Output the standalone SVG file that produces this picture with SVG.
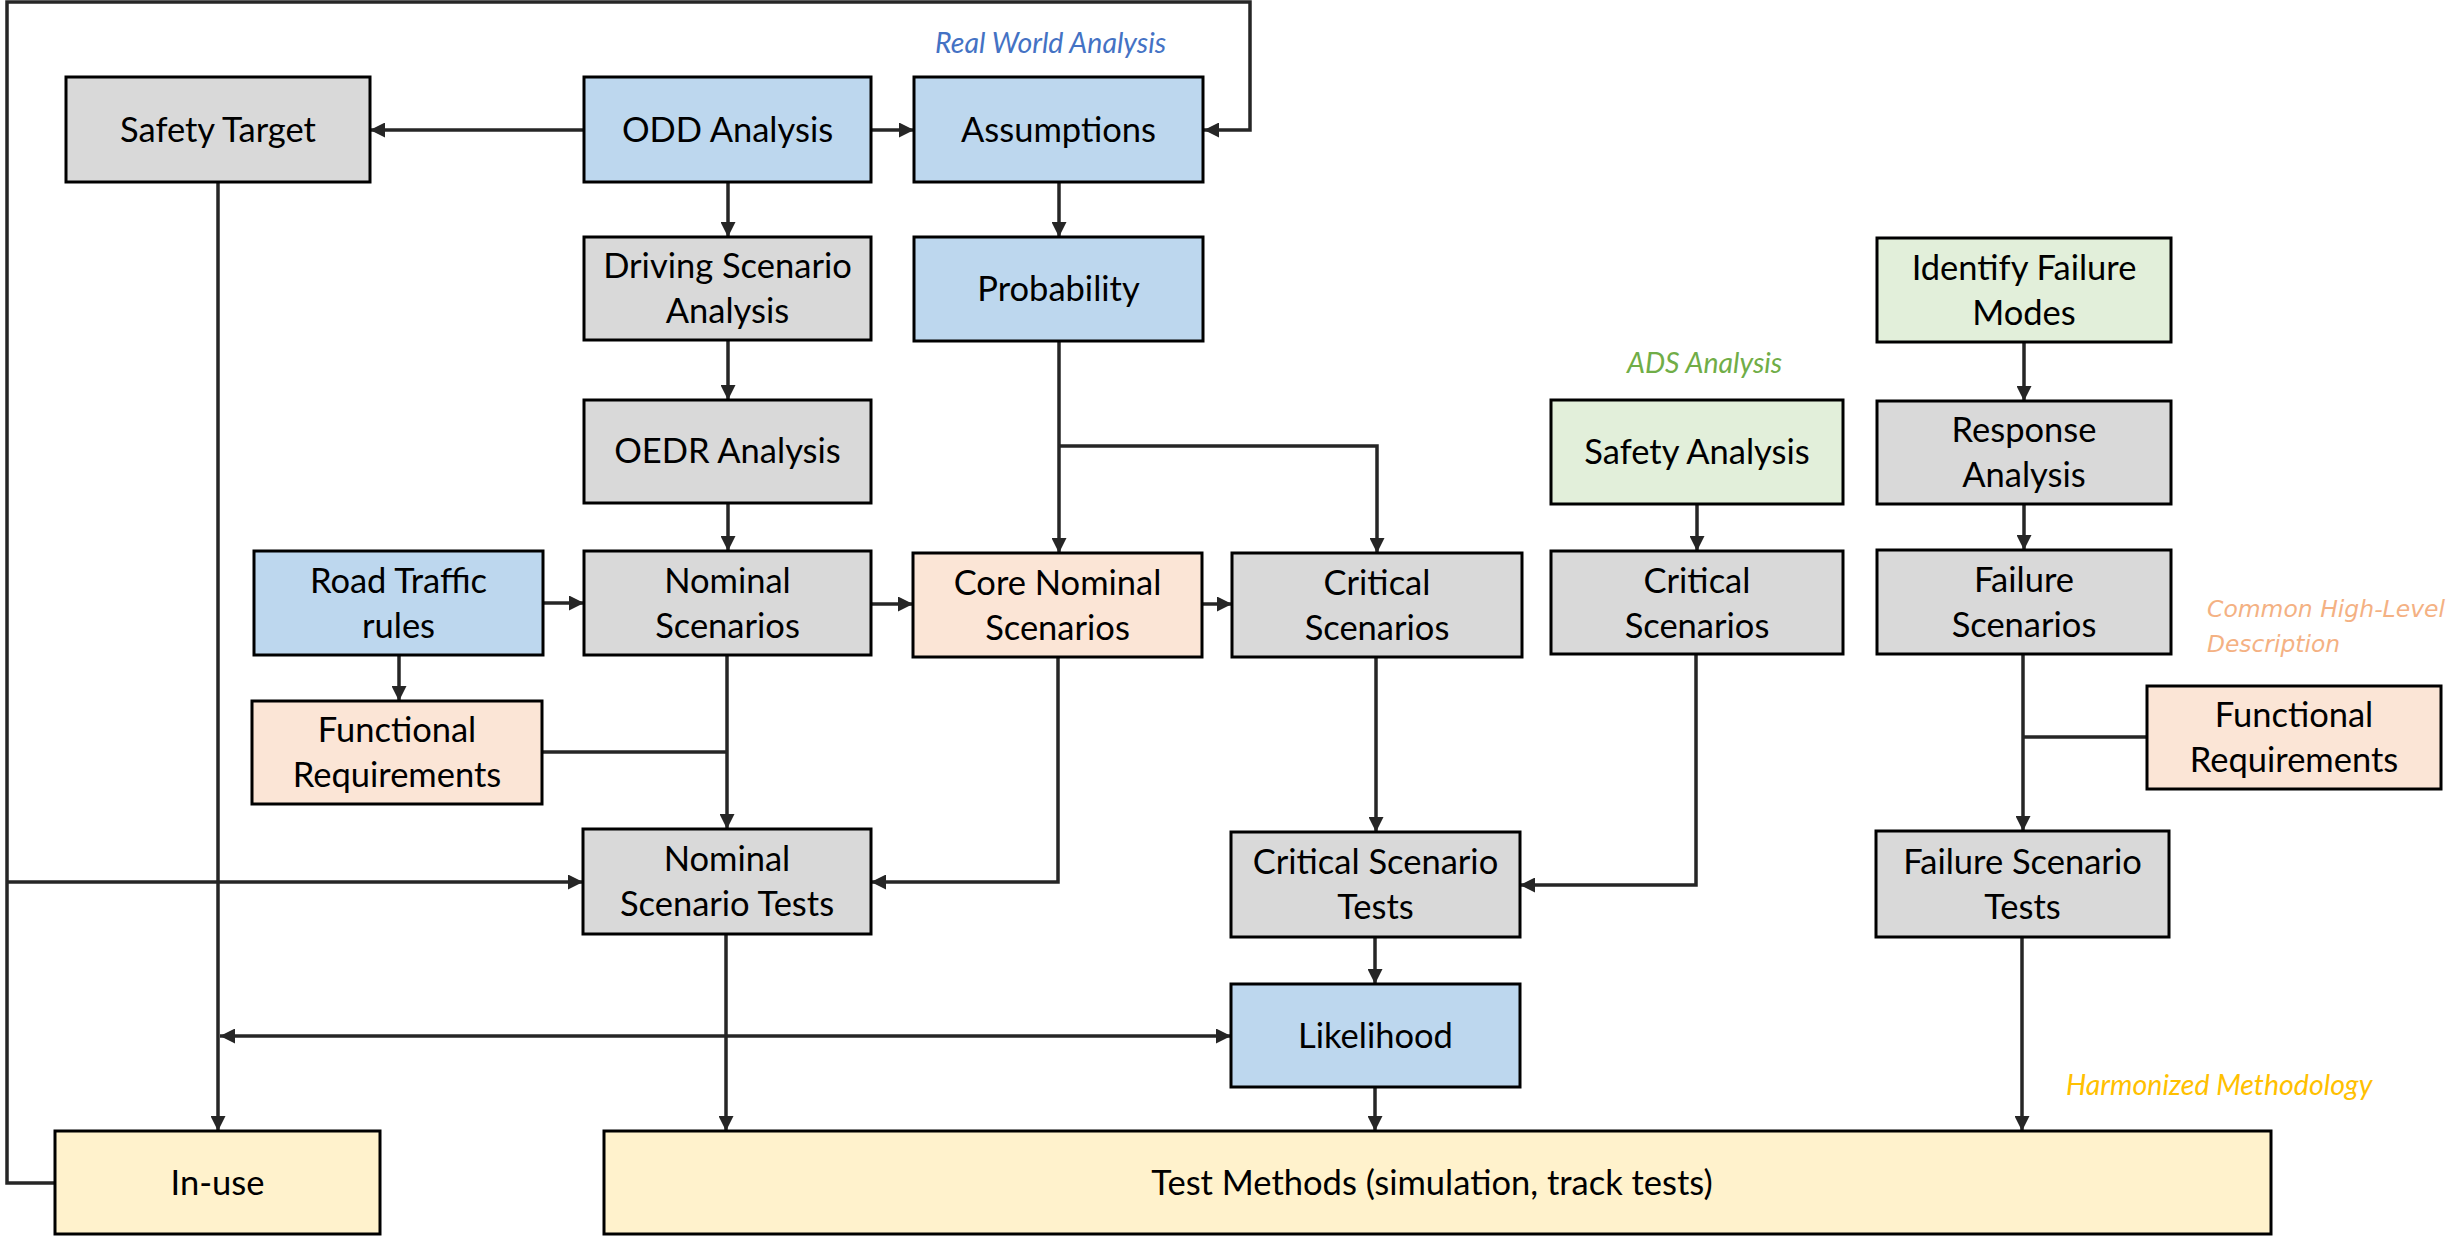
<svg xmlns="http://www.w3.org/2000/svg" width="2448" height="1236" viewBox="0 0 2448 1236">
<style>
.box{stroke:#000;stroke-width:3}
.gray{fill:#D9D9D9}.blue{fill:#BDD7EE}.peach{fill:#FBE5D6}.green{fill:#E2EFDA}.yellow{fill:#FFF2CC}
.t{font-family:Lato,"Liberation Sans",sans-serif;font-size:34.5px;fill:#000;text-anchor:middle}
.lbl{font-family:Lato,"Liberation Sans",sans-serif;font-size:28.5px;font-style:italic}
.lbl2{font-family:"DejaVu Sans","Liberation Sans",sans-serif;font-size:23px;font-style:italic}
.c{fill:none;stroke:#262626;stroke-width:3.5}
.a{marker-end:url(#ah)}
</style>
<defs>
<marker id="ah" viewBox="0 0 10 10" refX="10" refY="5" markerUnits="userSpaceOnUse" markerWidth="15" markerHeight="15" orient="auto-start-reverse">
<path d="M0,0 L10,5 L0,10 z" fill="#262626"/>
</marker>
</defs>
<rect width="2448" height="1236" fill="#fff"/>

<g id="connectors">
<path class="c a" d="M584,130 H370"/>
<path class="c a" d="M871,130 H914"/>
<path class="c" d="M55,1183 H7 V2 H1250 V130 H1204" marker-end="url(#ah)"/>
<path class="c a" d="M7,882 H583"/>
<path class="c a" d="M728,183 V237"/>
<path class="c a" d="M728,340 V400"/>
<path class="c a" d="M728,503 V551"/>
<path class="c a" d="M1059,183 V237"/>
<path class="c a" d="M1059,341 V553"/>
<path class="c a" d="M1059,446 H1377 V553"/>
<path class="c a" d="M543,603 H584"/>
<path class="c a" d="M399,655 V701"/>
<path class="c a" d="M727,655 V829"/>
<path class="c" d="M542,752 H727"/>
<path class="c a" d="M871,604 H913"/>
<path class="c a" d="M1202,604 H1232"/>
<path class="c a" d="M1058,657 V882 H871"/>
<path class="c a" d="M1376,657 V832"/>
<path class="c a" d="M1697,505 V551"/>
<path class="c a" d="M1696,654 V885 H1520"/>
<path class="c a" d="M2024,342 V401"/>
<path class="c a" d="M2024,504 V550"/>
<path class="c a" d="M2023,654 V831"/>
<path class="c" d="M2147,737 H2023"/>
<path class="c a" d="M1375,937 V984"/>
<path class="c a" d="M1375,1087 V1131"/>
<path class="c a" d="M726,934 V1131"/>
<path class="c a" d="M2022,937 V1131"/>
<path class="c a" d="M218,183 V1131"/>
<path class="c" d="M220,1036 H1231" marker-start="url(#ah)" marker-end="url(#ah)"/>
</g>

<g id="safety-target"><rect class="box gray" x="66" y="77" width="304" height="105"/><text class="t" x="218" y="142">Safety Target</text></g>
<g id="odd-analysis"><rect class="box blue" x="584" y="77" width="287" height="105"/><text class="t" x="727.5" y="142">ODD Analysis</text></g>
<g id="assumptions"><rect class="box blue" x="914" y="77" width="289" height="105"/><text class="t" x="1058.5" y="142">Assumptions</text></g>
<g id="driving-scenario"><rect class="box gray" x="584" y="237" width="287" height="103"/><text class="t" x="727.5" y="278">Driving Scenario</text><text class="t" x="727.5" y="323">Analysis</text></g>
<g id="probability"><rect class="box blue" x="914" y="237" width="289" height="104"/><text class="t" x="1058.5" y="301">Probability</text></g>
<g id="identify-failure"><rect class="box green" x="1877" y="238" width="294" height="104"/><text class="t" x="2024" y="280">Identify Failure</text><text class="t" x="2024" y="325">Modes</text></g>
<g id="oedr"><rect class="box gray" x="584" y="400" width="287" height="103"/><text class="t" x="727.5" y="463">OEDR Analysis</text></g>
<g id="safety-analysis"><rect class="box green" x="1551" y="400" width="292" height="104"/><text class="t" x="1697" y="464">Safety Analysis</text></g>
<g id="response-analysis"><rect class="box gray" x="1877" y="401" width="294" height="103"/><text class="t" x="2024" y="442">Response</text><text class="t" x="2024" y="487">Analysis</text></g>
<g id="road-traffic"><rect class="box blue" x="254" y="551" width="289" height="104"/><text class="t" x="398.5" y="593">Road Traffic</text><text class="t" x="398.5" y="638">rules</text></g>
<g id="nominal-scenarios"><rect class="box gray" x="584" y="551" width="287" height="104"/><text class="t" x="727.5" y="593">Nominal</text><text class="t" x="727.5" y="638">Scenarios</text></g>
<g id="core-nominal"><rect class="box peach" x="913" y="553" width="289" height="104"/><text class="t" x="1057.5" y="595">Core Nominal</text><text class="t" x="1057.5" y="640">Scenarios</text></g>
<g id="critical-scenarios-1"><rect class="box gray" x="1232" y="553" width="290" height="104"/><text class="t" x="1377" y="595">Critical</text><text class="t" x="1377" y="640">Scenarios</text></g>
<g id="critical-scenarios-2"><rect class="box gray" x="1551" y="551" width="292" height="103"/><text class="t" x="1697" y="593">Critical</text><text class="t" x="1697" y="638">Scenarios</text></g>
<g id="failure-scenarios"><rect class="box gray" x="1877" y="550" width="294" height="104"/><text class="t" x="2024" y="592">Failure</text><text class="t" x="2024" y="637">Scenarios</text></g>
<g id="functional-req-left"><rect class="box peach" x="252" y="701" width="290" height="103"/><text class="t" x="397" y="742">Functional</text><text class="t" x="397" y="787">Requirements</text></g>
<g id="functional-req-right"><rect class="box peach" x="2147" y="686" width="294" height="103"/><text class="t" x="2294" y="727">Functional</text><text class="t" x="2294" y="772">Requirements</text></g>
<g id="nominal-tests"><rect class="box gray" x="583" y="829" width="288" height="105"/><text class="t" x="727" y="871">Nominal</text><text class="t" x="727" y="916">Scenario Tests</text></g>
<g id="critical-tests"><rect class="box gray" x="1231" y="832" width="289" height="105"/><text class="t" x="1375.5" y="874">Critical Scenario</text><text class="t" x="1375.5" y="919">Tests</text></g>
<g id="failure-tests"><rect class="box gray" x="1876" y="831" width="293" height="106"/><text class="t" x="2022.5" y="874">Failure Scenario</text><text class="t" x="2022.5" y="919">Tests</text></g>
<g id="likelihood"><rect class="box blue" x="1231" y="984" width="289" height="103"/><text class="t" x="1375.5" y="1048">Likelihood</text></g>
<g id="in-use"><rect class="box yellow" x="55" y="1131" width="325" height="103"/><text class="t" x="217.5" y="1195">In-use</text></g>
<g id="test-methods"><rect class="box yellow" x="604" y="1131" width="1667" height="103"/><text class="t" x="1432" y="1195">Test Methods (simulation, track tests)</text></g>

<g id="labels">
<text class="lbl" x="935" y="53" fill="#4472C4">Real World Analysis</text>
<text class="lbl" x="1627" y="373" fill="#70AD47">ADS Analysis</text>
<text class="lbl2" x="2207" y="617" fill="#F4B183" textLength="238" lengthAdjust="spacingAndGlyphs">Common High-Level</text>
<text class="lbl2" x="2207" y="652" fill="#F4B183" textLength="133" lengthAdjust="spacingAndGlyphs">Description</text>
<text class="lbl" x="2066" y="1095" fill="#FFC000">Harmonized Methodology</text>
</g>
</svg>
